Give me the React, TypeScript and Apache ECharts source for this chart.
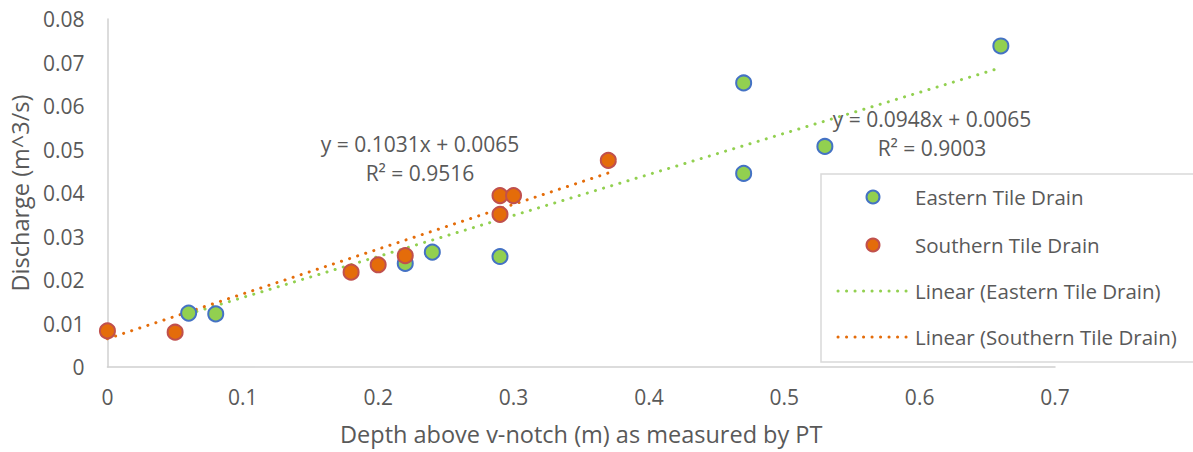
import React, { useEffect, useRef } from "react";
import * as echarts from "echarts";

const eastX = [0.06, 0.08, 0.22, 0.24, 0.29, 0.47, 0.47, 0.53, 0.66];
const eastY = [0.0124, 0.0122, 0.0238, 0.0264, 0.0254, 0.0653, 0.0445, 0.0507, 0.0738];
const southX = [0, 0.05, 0.18, 0.2, 0.22, 0.29, 0.29, 0.3, 0.37];
const southY = [0.0083, 0.008, 0.0218, 0.0235, 0.0256, 0.0394, 0.0351, 0.0394, 0.0475];
// Trendline end points (linear fits)
const eastTrendX = [0.06, 0.66];
const eastTrendY = [0.0122, 0.0688];
const southTrendX = [0, 0.37];
const southTrendY = [0.0065, 0.0446];
const eastEq = ["y = 0.0948x + 0.0065", "R² = 0.9003"];
const southEq = ["y = 0.1031x + 0.0065", "R² = 0.9516"];
const legendNames = [
  "Eastern Tile Drain",
  "Southern Tile Drain",
  "Linear (Eastern Tile Drain)",
  "Linear (Southern Tile Drain)",
];
const xTitle = "Depth above v-notch (m) as measured by PT";
const yTitle = "Discharge (m^3/s)";

const FONT = "'Open Sans', sans-serif";
const TXT = "#595959";
const GREEN = "#92d050";
const ORANGE = "#e46c0a";
const BLUE = "#4472c4";
const RED = "#c0504d";

const zip = (xs: number[], ys: number[]) => xs.map((x, i) => [x, ys[i]]);

export default function App() {
  const ref = useRef<HTMLDivElement>(null);
  useEffect(() => {
    if (!ref.current) return;
    const chart = echarts.init(ref.current, undefined, { renderer: "svg" });
    const dotted = { width: 3, type: [0.1, 8.4] as any, cap: "round" as any };
    const legendRows = [197, 245, 291, 337];
    const graphic: any[] = [
      {
        type: "rect",
        z: 100,
        shape: { x: 821, y: 174, width: 420, height: 188 },
        style: { fill: "#fff", stroke: "#d9d9d9", lineWidth: 1.5 },
      },
      {
        type: "circle",
        z: 101,
        shape: { cx: 873, cy: legendRows[0], r: 6.5 },
        style: { fill: GREEN, stroke: BLUE, lineWidth: 2 },
      },
      {
        type: "circle",
        z: 101,
        shape: { cx: 873, cy: legendRows[1], r: 6.5 },
        style: { fill: ORANGE, stroke: RED, lineWidth: 2 },
      },
      {
        type: "line",
        z: 101,
        shape: { x1: 838, y1: legendRows[2], x2: 907, y2: legendRows[2] },
        style: { stroke: GREEN, lineWidth: 3, lineDash: [0.1, 8.4], lineCap: "round" },
      },
      {
        type: "line",
        z: 101,
        shape: { x1: 838, y1: legendRows[3], x2: 907, y2: legendRows[3] },
        style: { stroke: ORANGE, lineWidth: 3, lineDash: [0.1, 8.4], lineCap: "round" },
      },
      ...legendNames.map((n, i) => ({
        type: "text",
        z: 101,
        x: 915,
        y: legendRows[i],
        style: {
          text: n,
          fill: TXT,
          font: `20.5px ${FONT}`,
          textAlign: "left",
          textVerticalAlign: "middle",
        },
      })),
      {
        type: "text",
        z: 50,
        x: 420,
        y: 129,
        style: {
          text: southEq.join("\n"),
          fill: TXT,
          font: `21px ${FONT}`,
          lineHeight: 29,
          textAlign: "center",
          textVerticalAlign: "top",
        },
      },
      {
        type: "text",
        z: 50,
        x: 932,
        y: 104,
        style: {
          text: eastEq.join("\n"),
          fill: TXT,
          font: `21px ${FONT}`,
          lineHeight: 29,
          textAlign: "center",
          textVerticalAlign: "top",
        },
      },
    ];
    chart.setOption({
      animation: false,
      textStyle: { fontFamily: FONT },
      grid: { left: 106, right: 138, top: 19, bottom: 85, containLabel: false },
      xAxis: {
        type: "value",
        min: 0,
        max: 0.7,
        interval: 0.1,
        name: xTitle,
        nameLocation: "middle",
        nameGap: 55,
        nameTextStyle: { color: TXT, fontSize: 23.5, fontFamily: FONT },
        axisLine: { show: true, lineStyle: { color: "#d0d0d0", width: 1.5 } },
        axisTick: { show: false },
        splitLine: { show: false },
        axisLabel: { color: TXT, fontSize: 21, fontFamily: FONT, margin: 19 },
      },
      yAxis: {
        type: "value",
        min: 0,
        max: 0.08,
        interval: 0.01,
        name: yTitle,
        nameLocation: "middle",
        nameGap: 71,
        nameTextStyle: { color: TXT, fontSize: 23.5, fontFamily: FONT },
        axisLine: { show: true, lineStyle: { color: "#d0d0d0", width: 1.5 } },
        axisTick: { show: false },
        splitLine: { show: false },
        axisLabel: { color: TXT, fontSize: 21, fontFamily: FONT, margin: 23 },
      },
      series: [
        {
          name: legendNames[2],
          type: "line",
          data: zip(eastTrendX, eastTrendY),
          symbol: "none",
          lineStyle: { ...dotted, color: GREEN },
          z: 2,
        },
        {
          name: legendNames[3],
          type: "line",
          data: zip(southTrendX, southTrendY),
          symbol: "none",
          lineStyle: { ...dotted, color: ORANGE },
          z: 2,
        },
        {
          name: legendNames[0],
          type: "scatter",
          data: zip(eastX, eastY),
          symbolSize: 15,
          itemStyle: { color: GREEN, borderColor: BLUE, borderWidth: 2, opacity: 1 },
          z: 3,
        },
        {
          name: legendNames[1],
          type: "scatter",
          data: zip(southX, southY),
          symbolSize: 15,
          itemStyle: { color: ORANGE, borderColor: RED, borderWidth: 2, opacity: 1 },
          z: 4,
        },
      ],
      graphic,
    });
    return () => chart.dispose();
  }, []);
  return (
    <div
      ref={ref}
      style={{ position: "fixed", left: 0, top: 0, width: 1193, height: 452, background: "#fff" }}
    />
  );
}
